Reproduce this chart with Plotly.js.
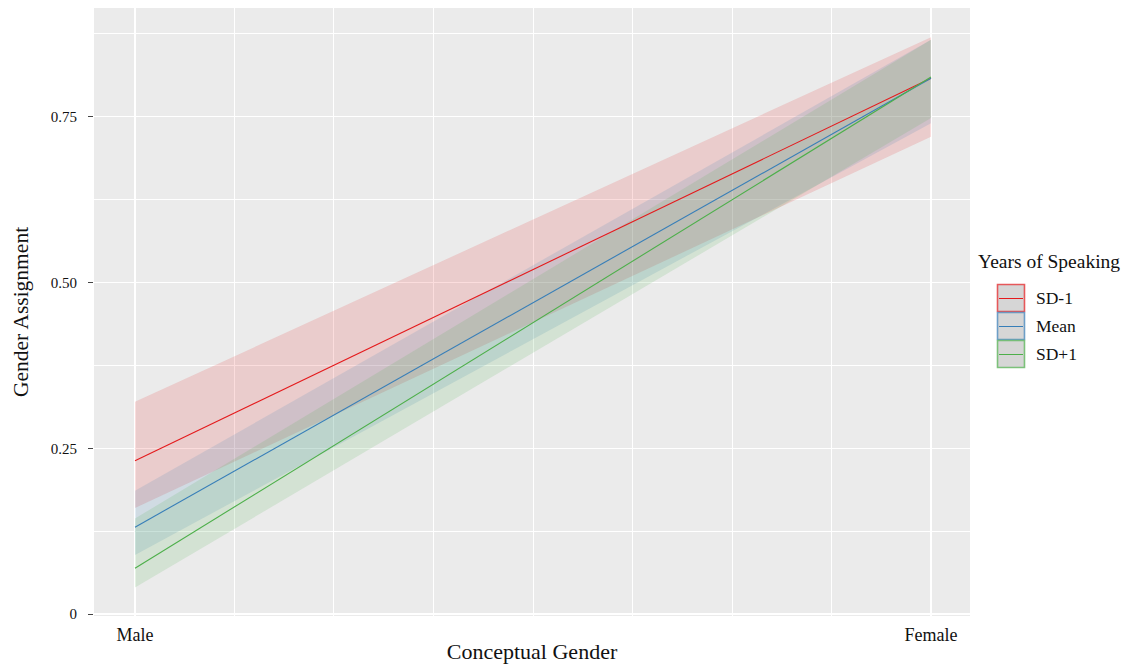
<!DOCTYPE html>
<html>
<head>
<meta charset="utf-8">
<script src="https://cdn.plot.ly/plotly-3.0.1.min.js"></script>
<style>html,body{margin:0;padding:0;background:#fff;}#chart{width:1136px;height:664px;}</style>
</head>
<body>
<div id="chart"></div>
<script>
// ---- data ----
const categories = ['Male', 'Female'];
const xPos = [0, 1];
const seriesNames = ['SD-1', 'Mean', 'SD+1'];
const sdm1Fit = [0.231, 0.808];
const sdm1Lo  = [0.160, 0.720];
const sdm1Hi  = [0.320, 0.870];
const meanFit = [0.131, 0.808];
const meanLo  = [0.089, 0.740];
const meanHi  = [0.186, 0.866];
const sdp1Fit = [0.069, 0.810];
const sdp1Lo  = [0.040, 0.748];
const sdp1Hi  = [0.144, 0.866];
const yTickVals = [0, 0.25, 0.5, 0.75];
const yTickText = ['0', '0.25', '0.50', '0.75'];

const colors = ['#E41A1C', '#377EB8', '#4DAF4A'];
const rgba = (hex, a) => {
  const n = parseInt(hex.slice(1), 16);
  return `rgba(${(n >> 16) & 255},${(n >> 8) & 255},${n & 255},${a})`;
};
const fits = [sdm1Fit, meanFit, sdp1Fit];
const los = [sdm1Lo, meanLo, sdp1Lo];
const his = [sdm1Hi, meanHi, sdp1Hi];

const traces = [];
for (let i = 0; i < 3; i++) {
  traces.push({
    x: xPos.concat(xPos.slice().reverse()),
    y: los[i].concat(his[i].slice().reverse()),
    type: 'scatter', mode: 'lines', fill: 'toself',
    fillcolor: rgba(colors[i], 0.15), line: {width: 0},
    hoverinfo: 'skip', showlegend: false
  });
}
for (let i = 0; i < 3; i++) {
  traces.push({
    x: xPos, y: fits[i], type: 'scatter', mode: 'lines',
    line: {color: colors[i], width: 1.1}, name: seriesNames[i], showlegend: false
  });
}

// ---- manual ggplot-like legend ----
const L = 94, R = 970, T = 8, B = 616;
const px = v => (v - L) / (R - L);
const py = v => (B - v) / (B - T);
const serif = 'Liberation Serif, Times New Roman, serif';
const shapes = [];
const annotations = [{
  xref: 'paper', yref: 'paper', x: px(976), y: py(261), xanchor: 'left', yanchor: 'middle',
  text: 'Years of Speaking', showarrow: false,
  font: {family: serif, size: 19.5, color: '#111'}
}];
const keyTop = [284, 312, 340];
for (let i = 0; i < 3; i++) {
  const t = keyTop[i], b = t + 27;
  shapes.push({type: 'rect', xref: 'paper', yref: 'paper',
    x0: px(997.5), x1: px(1024.5), y0: py(b + 0.5), y1: py(t + 0.5),
    fillcolor: '#D6D6D6', line: {color: rgba(colors[i], 0.7), width: 1.6}});
  shapes.push({type: 'line', xref: 'paper', yref: 'paper',
    x0: px(999), x1: px(1023), y0: py(t + 14.5), y1: py(t + 14.5),
    line: {color: colors[i], width: 1}});
  annotations.push({xref: 'paper', yref: 'paper', x: px(1034), y: py(t + 14),
    xanchor: 'left', yanchor: 'middle', text: seriesNames[i], showarrow: false,
    font: {family: serif, size: 17.5, color: '#111'}});
}

const layout = {
  width: 1136, height: 664,
  margin: {l: L, r: 1136 - R, t: T, b: 664 - B},
  paper_bgcolor: '#fff', plot_bgcolor: '#EBEBEB',
  showlegend: false,
  xaxis: {
    range: [-0.0515, 1.049], tickvals: xPos, ticktext: categories,
    showgrid: true, gridcolor: '#fff', gridwidth: 1.1,
    minor: {dtick: 0.125, tick0: 0, showgrid: true, gridcolor: '#fff', gridwidth: 1},
    zeroline: false, showline: false, ticks: '',
    ticklabelstandoff: 6,
    tickfont: {family: serif, size: 18, color: '#111'},
    title: {text: 'Conceptual Gender', font: {family: serif, size: 22, color: '#111'}, standoff: 0},
    fixedrange: true
  },
  yaxis: {
    range: [-0.003, 0.914], tickvals: yTickVals, ticktext: yTickText,
    showgrid: true, gridcolor: '#fff', gridwidth: 1.1,
    minor: {dtick: 0.125, tick0: 0, showgrid: true, gridcolor: '#fff', gridwidth: 1},
    zeroline: false, showline: false, ticks: 'outside', ticklen: 5, tickwidth: 1, tickcolor: '#444',
    ticklabelstandoff: 8,
    tickfont: {family: serif, size: 15, color: '#111'},
    title: {text: 'Gender Assignment', font: {family: serif, size: 21.5, color: '#111'}, standoff: 16},
    fixedrange: true
  },
  shapes: shapes,
  annotations: annotations
};
Plotly.newPlot('chart', traces, layout, {displayModeBar: false, staticPlot: true});
</script>
</body>
</html>
